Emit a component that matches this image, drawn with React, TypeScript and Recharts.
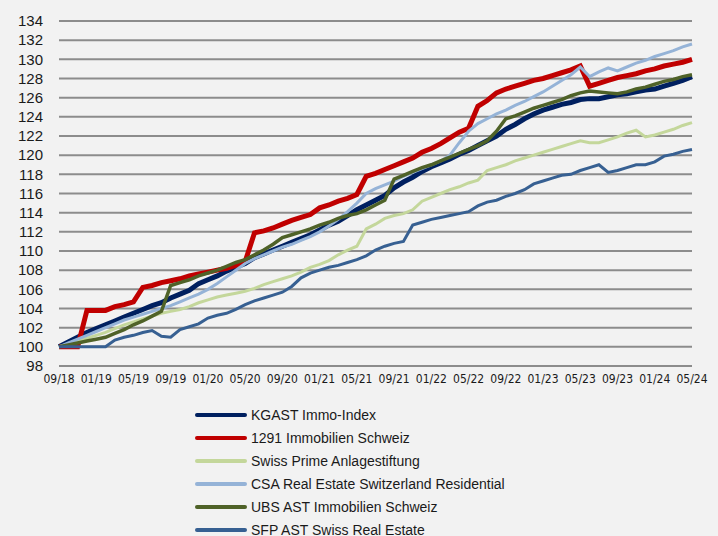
import { LineChart, Line, XAxis, YAxis, CartesianGrid } from 'recharts'

const months = [
  '09/18', '10/18', '11/18', '12/18',
  '01/19', '02/19', '03/19', '04/19', '05/19', '06/19', '07/19', '08/19', '09/19', '10/19', '11/19', '12/19',
  '01/20', '02/20', '03/20', '04/20', '05/20', '06/20', '07/20', '08/20', '09/20', '10/20', '11/20', '12/20',
  '01/21', '02/21', '03/21', '04/21', '05/21', '06/21', '07/21', '08/21', '09/21', '10/21', '11/21', '12/21',
  '01/22', '02/22', '03/22', '04/22', '05/22', '06/22', '07/22', '08/22', '09/22', '10/22', '11/22', '12/22',
  '01/23', '02/23', '03/23', '04/23', '05/23', '06/23', '07/23', '08/23', '09/23', '10/23', '11/23', '12/23',
  '01/24', '02/24', '03/24', '04/24', '05/24',
]

const xTicks = ['09/18', '01/19', '05/19', '09/19', '01/20', '05/20', '09/20', '01/21', '05/21', '09/21', '01/22', '05/22', '09/22', '01/23', '05/23', '09/23', '01/24', '05/24']
const yTicks = [98, 100, 102, 104, 106, 108, 110, 112, 114, 116, 118, 120, 122, 124, 126, 128, 130, 132, 134]

const kgast = [
  100.0, 100.5, 101.0, 101.5, 101.9, 102.3, 102.7, 103.1, 103.5, 103.9, 104.3, 104.6, 105.1, 105.5, 105.9, 106.6,
  107.0, 107.4, 107.9, 108.3, 108.7, 109.3, 109.7, 110.1, 110.5, 110.9, 111.3, 111.7, 112.2, 112.7, 113.1, 113.7,
  114.3, 114.8, 115.3, 115.8, 116.6, 117.2, 117.7, 118.3, 118.8, 119.2, 119.6, 120.1, 120.5, 121.0, 121.5, 122.0,
  122.7, 123.2, 123.8, 124.3, 124.7, 125.0, 125.3, 125.5, 125.8, 125.9, 125.9, 126.1, 126.3, 126.4, 126.6, 126.8,
  126.9, 127.2, 127.5, 127.8, 128.2,
]

const immo1291 = [
  100.0, 100.0, 100.0, 103.8, 103.8, 103.8, 104.2, 104.4, 104.7, 106.2, 106.4, 106.7, 106.9, 107.1, 107.4, 107.6,
  107.8, 108.0, 108.2, 108.5, 108.9, 111.9, 112.1, 112.4, 112.8, 113.2, 113.5, 113.8, 114.5, 114.8, 115.2, 115.5,
  115.9, 117.8, 118.1, 118.5, 118.9, 119.3, 119.7, 120.3, 120.7, 121.2, 121.8, 122.4, 122.8, 125.1, 125.7, 126.5,
  126.9, 127.2, 127.5, 127.8, 128.0, 128.3, 128.6, 128.9, 129.3, 127.2, 127.5, 127.8, 128.1, 128.3, 128.5, 128.8,
  129.0, 129.3, 129.5, 129.7, 130.0,
]

const swissPrime = [
  100.0, 100.3, 100.6, 100.9, 101.2, 101.5, 101.9, 102.3, 102.6, 102.9, 103.2, 103.5, 103.7, 103.9, 104.2, 104.6,
  104.9, 105.2, 105.4, 105.6, 105.8, 106.1, 106.5, 106.8, 107.1, 107.4, 107.8, 108.3, 108.6, 109.0, 109.6, 110.1,
  110.5, 112.3, 112.8, 113.4, 113.7, 113.9, 114.3, 115.2, 115.6, 116.0, 116.4, 116.7, 117.1, 117.4, 118.4, 118.7,
  119.0, 119.4, 119.7, 120.0, 120.3, 120.6, 120.9, 121.2, 121.5, 121.3, 121.3, 121.6, 121.9, 122.3, 122.6, 121.9,
  122.1, 122.4, 122.7, 123.1, 123.4,
]

const csa = [
  100.0, 100.4, 100.8, 101.2, 101.6, 102.0, 102.4, 102.8, 103.1, 103.4, 103.7, 104.0, 104.3, 104.7, 105.1, 105.5,
  106.0, 106.6, 107.3, 108.0, 108.7, 109.2, 109.6, 110.0, 110.4, 110.7, 111.1, 111.5, 112.0, 112.6, 113.3, 114.1,
  115.0, 116.0, 116.5, 116.9, 117.3, 117.8, 118.2, 118.6, 119.0, 119.4, 120.0, 121.3, 122.5, 123.3, 123.8, 124.3,
  124.7, 125.2, 125.6, 126.1, 126.6, 127.2, 127.8, 128.4, 129.2, 128.2, 128.7, 129.1, 128.8, 129.2, 129.6, 129.9,
  130.3, 130.6, 130.9, 131.3, 131.6,
]

const ubs = [
  100.0, 100.2, 100.4, 100.6, 100.8, 101.0, 101.4, 101.8, 102.3, 102.7, 103.2, 103.7, 106.4, 106.7, 107.0, 107.4,
  107.7, 108.0, 108.4, 108.8, 109.1, 109.6, 110.1, 110.7, 111.4, 111.7, 112.0, 112.3, 112.7, 113.0, 113.4, 113.7,
  113.9, 114.3, 114.8, 115.3, 117.5, 117.9, 118.3, 118.7, 119.0, 119.4, 119.8, 120.2, 120.6, 121.0, 121.5, 122.5,
  123.8, 124.1, 124.5, 124.9, 125.2, 125.5, 125.8, 126.2, 126.5, 126.7, 126.6, 126.5, 126.4, 126.6, 126.9, 127.1,
  127.4, 127.7, 127.9, 128.2, 128.4,
]

const sfp = [
  100.0, 100.0, 100.0, 100.0, 100.0, 100.0, 100.7, 101.0, 101.2, 101.5, 101.7, 101.1, 101.0, 101.8, 102.1, 102.4,
  103.0, 103.3, 103.5, 103.9, 104.4, 104.8, 105.1, 105.4, 105.7, 106.3, 107.2, 107.7, 108.0, 108.3, 108.5, 108.8,
  109.1, 109.5, 110.1, 110.5, 110.8, 111.0, 112.7, 113.0, 113.3, 113.5, 113.7, 113.9, 114.1, 114.7, 115.1, 115.3,
  115.7, 116.0, 116.4, 117.0, 117.3, 117.6, 117.9, 118.0, 118.4, 118.7, 119.0, 118.2, 118.4, 118.7, 119.0, 119.0,
  119.3, 119.9, 120.1, 120.4, 120.6,
]

const seriesInfo = [
  { key: 'kgast', name: 'KGAST Immo-Index', color: '#002060', width: 5 },
  { key: 'immo1291', name: '1291 Immobilien Schweiz', color: '#c00000', width: 5 },
  { key: 'swissPrime', name: 'Swiss Prime Anlagestiftung', color: '#c4d79b', width: 3 },
  { key: 'csa', name: 'CSA Real Estate Switzerland Residential', color: '#95b3d7', width: 3 },
  { key: 'ubs', name: 'UBS AST Immobilien Schweiz', color: '#4f6228', width: 3.5 },
  { key: 'sfp', name: 'SFP AST Swiss Real Estate', color: '#376092', width: 3 },
]

const data = months.map((m, i) => ({
  month: m,
  kgast: kgast[i],
  immo1291: immo1291[i],
  swissPrime: swissPrime[i],
  csa: csa[i],
  ubs: ubs[i],
  sfp: sfp[i],
}))

const textFont = "'Liberation Sans', Arial, sans-serif"

export default function App() {
  return (
    <div
      style={{
        position: 'absolute',
        left: 0,
        top: 0,
        width: 718,
        height: 536,
        background: '#f2f2f2',
        overflow: 'hidden',
      }}
    >
      <LineChart
        width={718}
        height={400}
        data={data}
        margin={{ top: 21, right: 26, bottom: 9, left: 0 }}
      >
        <CartesianGrid vertical={false} stroke="#8c8c8c" strokeWidth={2} />
        <XAxis
          dataKey="month"
          ticks={xTicks}
          interval={0}
          height={25}
          axisLine={false}
          tickLine={false}
          tickSize={0}
          tickMargin={8}
          tick={{ fontSize: 12, fill: '#1a1a1a', fontFamily: "'Liberation Sans Narrow', 'DejaVu Sans Condensed', sans-serif" }}
        />
        <YAxis
          domain={[98, 134]}
          ticks={yTicks}
          interval={0}
          width={59}
          axisLine={false}
          tickLine={false}
          tickSize={0}
          tickMargin={16}
          tick={{ fontSize: 15, fill: '#1a1a1a', fontFamily: textFont }}
        />
        {seriesInfo.map((s) => (
          <Line
            key={s.key}
            type="linear"
            dataKey={s.key}
            name={s.name}
            stroke={s.color}
            strokeWidth={s.width}
            dot={false}
            isAnimationActive={false}
          />
        ))}
      </LineChart>

      {/* legend */}
      <div style={{ position: 'absolute', left: 195, top: 403, fontFamily: textFont, fontSize: 14, color: '#1a1a1a' }}>
        {seriesInfo.map((s) => (
          <div key={s.key} style={{ display: 'flex', alignItems: 'center', height: 23 }}>
            <div style={{ width: 52, height: 4, borderRadius: 2, background: s.color, marginRight: 4 }} />
            <span>{s.name}</span>
          </div>
        ))}
      </div>
    </div>
  )
}
